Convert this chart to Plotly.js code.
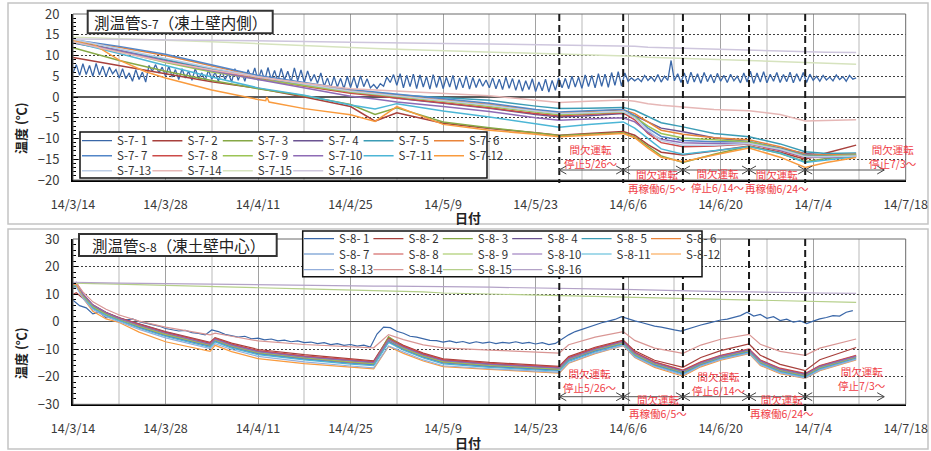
<!DOCTYPE html>
<html><head><meta charset="utf-8">
<script src="https://cdn.plot.ly/plotly-3.0.1.min.js"></script>
<style>html,body{margin:0;padding:0;background:#fff;}#chart{width:931px;height:451px;}</style>
</head><body><div id="chart"></div>
<script>
// ================= DATA =================
// --- S-7 (凍土壁内側) smooth series: common sample dates ---
const s7Dates = ['2014-03-14','2014-03-21','2014-03-28','2014-04-04','2014-04-11','2014-04-18','2014-04-25','2014-04-28 17:00','2014-05-02','2014-05-09','2014-05-16','2014-05-23','2014-05-26 14:00','2014-05-31','2014-06-05 06:00','2014-06-07','2014-06-09','2014-06-11','2014-06-14 07:00','2014-06-19','2014-06-24 07:00','2014-06-29','2014-07-02 19:00','2014-07-06','2014-07-10 12:00'];
const s7_2  = [9.5, 7.5, 5.6, 3.7, 2.1, 0.0, -2.3, -5.8, -3.8, -6.3, -7.6, -8.6, -9.2, -8.8, -8.3, -9.2, -11.5, -13.3, -14.0, -13.0, -11.8, -13.3, -15.0, -13.5, -11.6];
const s7_3  = [11.9, 8.8, 6.2, 4.0, 2.0, 0.3, -1.8, -4.2, -2.6, -6.0, -7.4, -8.6, -9.3, -9.0, -8.6, -9.6, -12.0, -14.2, -15.8, -13.8, -11.9, -13.6, -15.6, -14.8, -14.2];
const s7_4  = [13.0, 11.0, 8.8, 6.8, 4.8, 3.0, 1.2, 0.4, -0.3, -1.5, -2.7, -4.2, -4.8, -4.5, -4.0, -4.5, -6.0, -7.5, -8.4, -9.8, -10.8, -12.3, -13.6, -14.0, -13.8];
const s7_5  = [13.5, 11.3, 9.0, 6.8, 4.8, 3.0, 1.2, 0.8, 0.5, -0.1, -0.8, -2.2, -2.8, -2.7, -2.5, -3.2, -4.8, -6.2, -7.2, -8.8, -9.6, -11.3, -13.2, -13.6, -13.5];
const s7_6  = [13.6, 12.0, 10.0, 7.5, 5.0, 3.2, 1.5, 0.9, 0.4, -0.6, -1.8, -3.2, -3.8, -3.5, -3.1, -4.0, -6.0, -8.0, -9.0, -9.8, -10.3, -12.0, -13.8, -14.0, -13.8];
const s7_7  = [13.8, 12.2, 10.3, 7.8, 5.2, 3.5, 1.8, 1.2, 0.7, -0.3, -1.5, -3.0, -3.6, -3.3, -3.0, -4.5, -7.5, -9.5, -10.5, -10.8, -10.7, -12.4, -14.0, -14.2, -14.0];
const s7_8  = [13.5, 11.0, 8.6, 6.4, 4.4, 2.6, 0.9, 0.3, -0.3, -1.4, -2.6, -4.0, -4.5, -4.2, -3.8, -5.5, -8.8, -11.0, -12.0, -11.8, -11.3, -12.9, -14.6, -14.5, -14.2];
const s7_9  = [13.4, 11.0, 8.3, 6.0, 4.3, 2.8, 1.2, 0.6, 0.1, -1.0, -2.3, -3.7, -4.3, -4.0, -3.6, -4.8, -7.0, -8.8, -9.9, -10.3, -10.8, -12.5, -14.2, -14.3, -14.0];
const s7_10 = [13.2, 11.2, 8.6, 6.3, 4.2, 2.2, 0.2, -0.5, -1.2, -2.3, -3.5, -5.0, -5.6, -5.3, -5.0, -6.0, -8.5, -10.2, -11.0, -11.2, -11.2, -12.8, -14.4, -14.6, -14.3];
const s7_11 = [13.2, 10.5, 7.6, 4.8, 2.2, 0.4, -1.9, -2.9, -1.6, -3.4, -4.8, -6.5, -7.3, -6.6, -6.0, -7.5, -10.0, -12.5, -13.8, -13.0, -12.0, -13.5, -15.8, -15.2, -14.4];
const s7_13 = [13.9, 11.6, 9.2, 7.0, 4.9, 3.1, 1.4, 0.8, 0.3, -0.9, -2.0, -3.4, -4.0, -3.8, -3.5, -5.0, -8.0, -10.5, -11.6, -11.6, -11.2, -12.6, -14.4, -14.4, -14.2];
const s7_14 = [13.3, 10.8, 8.5, 6.5, 4.8, 3.3, 2.0, 1.7, 1.5, 0.9, 0.3, -0.8, -1.3, -1.0, -0.7, -1.0, -1.6, -2.0, -2.4, -3.0, -3.3, -4.2, -5.8, -5.7, -5.5];
const s7_15 = [14.4, 14.1, 13.7, 13.3, 12.8, 12.3, 11.9, 11.7, 11.5, 11.2, 10.9, 10.6, 10.4, 10.2, 9.9, 9.8, 9.6, 9.5, 9.3, 9.0, 8.7, 8.5, 8.3, 8.1, 7.9];
const s7_16 = [14.0, 13.9, 13.8, 13.7, 13.6, 13.4, 13.2, 13.1, 13.0, 12.9, 12.8, 12.6, 12.5, 12.4, 12.3, 12.2, 12.0, 11.9, 11.7, 11.5, 11.3, 11.0, 10.8, 10.8, 10.7];
// S-7-12 has its own dates (small spike on 4/12)
const s7_12Dates = ['2014-03-14','2014-03-17','2014-03-21','2014-03-25','2014-03-28','2014-04-04','2014-04-11','2014-04-12 04:00','2014-04-12 08:00','2014-04-12 16:00','2014-04-18','2014-04-25','2014-04-28 17:00','2014-05-02','2014-05-09','2014-05-16','2014-05-23','2014-05-26 14:00','2014-05-31','2014-06-05 06:00','2014-06-07','2014-06-09','2014-06-11','2014-06-14 07:00','2014-06-19','2014-06-24 07:00','2014-06-29','2014-07-02 19:00','2014-07-06','2014-07-10 12:00'];
const s7_12 = [13.6, 12.8, 8.9, 6.1, 4.6, 1.7, -0.6, -0.9, 0.0, -1.2, -2.8, -4.3, -5.9, -2.3, -6.6, -8.0, -9.0, -9.6, -9.2, -8.8, -9.8, -12.3, -14.5, -15.6, -14.0, -12.3, -14.5, -17.0, -15.8, -14.6];
// S-7-1: readings every 12 h from 2014-03-14 00:00 (night, noon pairs)
const s7_1Start = '2014-03-14';
const s7_1StepHours = 12;
const s7_1 = [
5.8,7.8, 5.2,8.0, 5.4,7.6, 5.0,8.1, 5.3,7.4, 4.9,7.2, 5.6,6.6, 4.6,6.8, 4.4,5.8, 3.8,6.6,
4.2,6.0, 3.6,7.6, 6.2,7.8, 5.8,7.2, 5.0,7.4, 4.8,6.6, 4.2,6.8, 4.6,6.2, 4.0,6.9, 4.4,5.8,
3.9,6.5, 4.3,6.0, 3.8,6.4, 4.2,5.7, 3.6,6.8, 4.0,6.2, 3.8,6.6, 4.4,7.0, 4.0,6.6, 3.9,7.1,
4.2,6.4, 3.7,6.9, 4.1,6.2, 3.6,7.0, 3.9,6.5, 3.5,6.3, 3.8,5.4, 3.3,5.8, 2.6,4.6, 2.2,4.9,
2.4,4.5, 2.0,5.0, 2.3,4.8, 2.1,5.1, 2.5,4.4, 2.2,3.0, 2.0,3.2, 2.6,4.8, 3.5,5.4, 2.8,5.6,
2.2,5.2, 2.5,5.5, 2.0,5.3, 2.4,4.9, 1.9,5.4, 2.3,5.0, 2.0,4.8, 2.4,5.2, 1.8,4.6, 2.2,5.1,
1.9,4.7, 2.3,4.4, 2.6,4.1, 2.2,4.6, 2.0,4.3, 1.8,4.8, 2.1,4.5, 1.6,4.2, 1.4,3.9, 1.8,4.4,
1.3,3.6, 1.5,4.3, 1.2,4.0, 1.6,4.6, 2.2,4.5, 2.0,5.0, 2.4,4.8, 2.1,5.3, 2.5,5.2, 2.2,5.6,
2.6,5.5, 2.3,5.9, 2.8,6.1, 2.6,5.8, 3.8,4.6, 3.9,4.5, 3.7,5.2, 4.0,4.8, 3.8,5.4, 3.6,5.0,
4.0,8.8, 3.9,5.6, 3.5,5.8, 3.2,6.0, 3.6,5.6, 3.3,5.9, 3.7,5.4, 3.4,5.7, 3.8,5.2, 3.5,5.5,
3.9,5.0, 3.4,5.8, 3.6,6.2, 3.3,5.8, 3.6,6.1, 3.4,5.5, 3.8,5.9, 3.5,5.4, 3.7,6.0, 3.4,5.6,
3.8,5.9, 3.5,5.5, 4.0,5.0, 3.8,5.2, 4.1,4.8, 3.9,5.3, 4.2,4.9, 3.8,5.2, 4.3,4.6];

// --- S-8 (凍土壁中心) smooth series: common sample dates ---
const s8Dates = ['2014-03-14','2014-03-14 12:00','2014-03-15 12:00','2014-03-17','2014-03-19','2014-03-21','2014-03-24','2014-03-28','2014-04-03 18:00','2014-04-04 12:00','2014-04-07','2014-04-11','2014-04-18','2014-04-25','2014-04-28 12:00','2014-04-30 18:00','2014-05-03','2014-05-06','2014-05-09','2014-05-16','2014-05-26 14:00','2014-05-28','2014-06-01','2014-06-05 06:00','2014-06-07','2014-06-10','2014-06-14 07:00','2014-06-17','2014-06-20','2014-06-24 07:00','2014-06-26','2014-06-29','2014-07-02 19:00','2014-07-05','2014-07-10 12:00'];
const s8_2  = [9.9, 10.5, 8.5, 5.5, 3.2, 1.4, -0.8, -3.6, -7.5, -5.8, -7.8, -10.1, -12.0, -13.6, -14.2, -5.8, -8.6, -11.4, -13.5, -14.8, -16.2, -12.7, -9.3, -6.7, -10.6, -14.0, -16.6, -13.0, -10.5, -8.1, -12.2, -15.5, -17.8, -13.8, -9.4];
const s8_3  = [12.3, 12.9, 9.0, 5.3, 2.8, 0.9, -1.4, -4.4, -8.3, -6.0, -8.5, -10.9, -12.9, -14.4, -15.0, -5.4, -9.2, -12.2, -14.3, -15.6, -17.0, -13.5, -10.1, -7.4, -11.6, -15.1, -18.1, -15.1, -12.7, -10.4, -14.4, -17.4, -19.3, -16.4, -12.7];
const s8_4  = [13.5, 14.0, 10.0, 6.1, 3.4, 1.4, -0.9, -3.8, -7.9, -6.2, -8.3, -10.7, -12.6, -14.1, -14.7, -6.4, -9.1, -11.9, -14.0, -15.3, -16.7, -13.2, -9.8, -7.1, -11.2, -14.8, -17.8, -14.8, -12.4, -10.1, -14.1, -17.1, -19.0, -16.1, -12.4];
const s8_5  = [13.0, 13.7, 9.7, 5.6, 2.8, 0.7, -1.8, -4.8, -8.7, -6.8, -9.0, -11.4, -13.3, -14.8, -15.4, -7.0, -9.8, -12.6, -14.7, -16.0, -17.4, -13.8, -10.4, -7.8, -12.0, -15.5, -18.5, -15.4, -13.0, -10.7, -14.8, -17.8, -19.7, -16.8, -13.0];
const s8_6  = [13.4, 14.0, 9.6, 5.3, 2.5, 0.5, -2.0, -5.0, -8.9, -7.0, -9.2, -11.6, -13.5, -15.0, -15.6, -7.2, -10.0, -12.8, -14.9, -16.2, -17.6, -14.0, -10.6, -8.0, -12.2, -15.7, -18.7, -15.6, -13.2, -10.9, -15.0, -18.0, -19.9, -17.0, -13.2];
const s8_7  = [12.6, 13.2, 9.0, 5.0, 2.4, 0.5, -2.1, -5.1, -9.0, -7.1, -9.3, -11.7, -13.6, -15.1, -15.7, -7.3, -10.1, -12.9, -15.0, -16.3, -17.7, -14.1, -10.7, -8.1, -12.3, -15.8, -18.8, -15.7, -13.3, -11.0, -15.1, -18.1, -20.0, -17.1, -13.3];
const s8_8  = [13.2, 13.8, 9.9, 6.0, 3.3, 1.3, -1.0, -3.9, -7.8, -6.0, -8.1, -10.5, -12.4, -13.9, -14.5, -6.1, -8.9, -11.7, -13.8, -15.1, -16.5, -13.0, -9.6, -7.0, -11.1, -14.6, -17.6, -14.6, -12.2, -9.9, -13.9, -16.9, -18.8, -15.9, -12.2];
const s8_9  = [12.8, 13.4, 9.3, 5.4, 2.7, 0.8, -1.6, -4.6, -8.5, -6.6, -8.8, -11.2, -13.1, -14.6, -15.2, -6.5, -9.6, -12.4, -14.5, -15.8, -17.2, -13.6, -10.2, -7.6, -11.8, -15.3, -18.3, -15.2, -12.8, -10.5, -14.6, -17.6, -19.5, -16.6, -12.8];
const s8_10 = [13.8, 14.3, 10.2, 6.0, 3.2, 1.1, -1.3, -4.2, -8.2, -6.4, -8.5, -10.9, -12.8, -14.3, -14.9, -6.6, -9.3, -12.1, -14.2, -15.5, -16.9, -13.4, -10.0, -7.3, -11.5, -15.0, -18.0, -15.0, -12.6, -10.3, -14.3, -17.3, -19.2, -16.3, -12.6];
const s8_11 = [12.9, 13.5, 9.0, 4.8, 2.1, 0.3, -2.4, -5.4, -9.3, -7.4, -9.6, -12.0, -13.9, -15.4, -16.0, -7.6, -10.4, -13.2, -15.3, -16.6, -18.0, -14.4, -11.0, -8.3, -12.5, -16.0, -19.0, -15.9, -13.5, -11.2, -15.3, -18.3, -20.2, -17.3, -13.5];
const s8_12 = [13.3, 13.6, 8.6, 3.8, 1.0, -0.3, -3.8, -7.3, -10.8, -8.6, -10.9, -13.4, -15.2, -16.6, -17.1, -9.0, -11.5, -14.3, -16.3, -17.3, -18.7, -15.1, -11.6, -8.7, -13.0, -16.6, -19.8, -16.4, -14.0, -11.6, -15.9, -18.9, -20.6, -17.8, -13.9];
const s8_13 = [12.0, 12.6, 8.4, 4.4, 1.8, 0.0, -2.8, -5.9, -9.8, -8.0, -10.1, -12.6, -14.6, -16.1, -16.8, -8.8, -11.1, -13.9, -16.0, -17.1, -18.4, -14.9, -11.4, -8.6, -12.8, -16.3, -19.4, -16.1, -13.7, -11.4, -15.6, -18.6, -20.5, -17.6, -13.7];
const s8_14 = [13.6, 14.0, 10.8, 7.2, 4.5, 2.4, 0.2, -2.0, -4.8, -4.2, -5.3, -7.0, -8.3, -9.2, -9.5, -4.7, -6.5, -8.4, -9.5, -10.3, -11.4, -8.4, -5.6, -3.6, -6.8, -9.6, -11.5, -8.5, -6.4, -4.6, -8.2, -10.8, -12.2, -9.6, -6.3];
const s8_15 = [14.0, 14.0, 13.9, 13.8, 13.7, 13.6, 13.4, 13.2, 12.8, 12.7, 12.6, 12.3, 11.9, 11.5, 11.3, 11.2, 11.0, 10.8, 10.4, 10.0, 9.4, 9.3, 9.0, 8.8, 8.7, 8.5, 8.3, 8.1, 7.9, 7.7, 7.6, 7.4, 7.2, 7.1, 7.0];
const s8_16 = [14.3, 14.3, 14.2, 14.2, 14.1, 14.0, 13.9, 13.8, 13.6, 13.6, 13.5, 13.4, 13.2, 13.0, 12.9, 12.9, 12.8, 12.8, 12.7, 12.5, 12.2, 12.1, 11.9, 11.7, 11.6, 11.4, 11.2, 11.1, 10.9, 10.8, 10.7, 10.6, 10.5, 10.4, 10.3];
// S-8-1: daily readings from 2014-03-14
const s8_1Start = '2014-03-14';
const s8_1StepHours = 24;
const s8_1 = [
7.8, 5.8, 5.0, 2.8, 3.4, 1.4, 1.8, 0.3, 0.6, 1.0,
0.0, -0.5, -1.2, -1.6, -2.5, -2.9, -3.4, -3.2, -4.0, -4.3,
-4.8, -3.0, -3.6, -4.6, -5.0, -5.6, -5.3, -6.2, -6.0, -6.6,
-6.3, -7.0, -6.7, -7.3, -7.0, -7.6, -7.4, -8.0, -7.6, -8.3,
-8.0, -8.6, -8.3, -8.9, -8.5, -9.2, -4.5, -2.0, -2.2, -3.5,
-4.2, -5.3, -5.6, -6.3, -6.8, -6.9, -7.4, -7.0, -7.6, -7.2,
-7.9, -7.3, -7.8, -7.4, -8.0, -7.5, -7.8, -7.3, -7.9, -7.5,
-8.1, -7.6, -8.3, -7.9, -6.3, -4.8, -3.6, -2.8, -1.8, -1.2,
-0.4, 0.2, 0.8, 1.8, 1.0, 0.3, -0.3, -1.0, -1.6, -2.0,
-2.6, -3.0, -3.4, -2.6, -2.0, -1.2, -0.6, 0.0, 0.6, 0.9,
1.6, 2.2, 3.4, 2.0, 2.6, 1.2, 1.8, 0.4, 0.9, -0.2,
0.3, -0.7, 0.2, 1.0, 1.5, 2.2, 2.0, 3.4, 4.0];

// --- names, ticks, events ---
const s7Names = ['S-7- 1','S-7- 2','S-7- 3','S-7- 4','S-7- 5','S-7- 6','S-7- 7','S-7- 8','S-7- 9','S-7-10','S-7-11','S-7-12','S-7-13','S-7-14','S-7-15','S-7-16'];
const s8Names = ['S-8- 1','S-8- 2','S-8- 3','S-8- 4','S-8- 5','S-8- 6','S-8- 7','S-8- 8','S-8- 9','S-8-10','S-8-11','S-8-12','S-8-13','S-8-14','S-8-15','S-8-16'];
const chartTitles = ['測温管<span style="font-size:12px">S-7</span>（凍土壁内側）','測温管<span style="font-size:12px">S-8</span>（凍土壁中心）'];
const yTitle = '温度 (℃)';
const xTitle = '日付';
const xRange = ['2014-03-14','2014-07-18'];
const eventDates = ['2014-05-26 14:00','2014-06-05 06:00','2014-06-14 07:00','2014-06-24 07:00','2014-07-02 19:00'];
const arrowEndDate = '2014-07-14 18:00';
const eventLabels = ['間欠運転<br>停止5/26～','間欠運転<br>再稼働6/5～','間欠運転<br>停止6/14～','間欠運転<br>再稼働6/24～','間欠運転<br>停止7/3～'];

// ================= STYLE =================
const FONT = '"Noto Sans CJK JP", "Noto Sans", sans-serif';
const W = 931, H = 451;
const px = v => v / W;
const py = v => 1 - v / H;
const colorsTop = ['#3A67A8','#A8403C','#86A845','#6B5392','#3B9CB5','#E9843A','#5286C8','#CC4A48','#9CC455','#8E6BB5','#4CB6D6','#F99B3E','#BCCDE6','#E6B7B6','#D6E3BE','#CEC6DD'];
const colorsBot = ['#3A67A8','#A8403C','#86A845','#6B5392','#3B9CB5','#E9843A','#5286C8','#CC4A48','#9CC455','#8E6BB5','#4CB6D6','#F99B3E','#93AEDB','#D99694','#B5CF8A','#B3A2C7'];
const RED = '#F03C46';

function stepDates(start, stepH, n){
  const t0 = Date.parse(start + 'T00:00:00Z');
  const out = [];
  for (let i = 0; i < n; i++) out.push(new Date(t0 + i*stepH*3600e3).toISOString().slice(0,19).replace('T',' '));
  return out;
}

function lineTrace(name, x, y, color, w, xa, ya, leg){
  return {type:'scatter', mode:'lines', name:name, x:x, y:y, xaxis:xa, yaxis:ya, legend:leg,
          line:{color:color, width:w}, hoverinfo:'skip'};
}

const traces = [];
const seriesTop = [
  [stepDates(s7_1Start, s7_1StepHours, s7_1.length), s7_1],
  [s7Dates, s7_2],[s7Dates, s7_3],[s7Dates, s7_4],[s7Dates, s7_5],[s7Dates, s7_6],
  [s7Dates, s7_7],[s7Dates, s7_8],[s7Dates, s7_9],[s7Dates, s7_10],[s7Dates, s7_11],[s7_12Dates, s7_12],
  [s7Dates, s7_13],[s7Dates, s7_14],[s7Dates, s7_15],[s7Dates, s7_16]];
seriesTop.forEach((d,i)=>{
  const leg = i < 6 ? 'legend' : (i < 12 ? 'legend2' : 'legend3');
  traces.push(lineTrace(s7Names[i], d[0], d[1], colorsTop[i], i===0?1.3:1.5, 'x', 'y', leg));
});
const seriesBot = [
  [stepDates(s8_1Start, s8_1StepHours, s8_1.length), s8_1],
  [s8Dates, s8_2],[s8Dates, s8_3],[s8Dates, s8_4],[s8Dates, s8_5],[s8Dates, s8_6],
  [s8Dates, s8_7],[s8Dates, s8_8],[s8Dates, s8_9],[s8Dates, s8_10],[s8Dates, s8_11],[s8Dates, s8_12],
  [s8Dates, s8_13],[s8Dates, s8_14],[s8Dates, s8_15],[s8Dates, s8_16]];
seriesBot.forEach((d,i)=>{
  const leg = i < 6 ? 'legend4' : (i < 12 ? 'legend5' : 'legend6');
  traces.push(lineTrace(s8Names[i], d[0], d[1], colorsBot[i], 1.2, 'x2', 'y2', leg));
});
// blank spacer legend entries (no visible mark) so the last column's text is not clipped
['legend','legend2','legend3'].forEach(l=>traces.push(lineTrace(' ', [xRange[0]], [null], 'rgba(0,0,0,0)', 0.1, 'x', 'y', l)));
['legend4','legend5','legend6'].forEach(l=>traces.push(lineTrace(' ', [xRange[0]], [null], 'rgba(0,0,0,0)', 0.1, 'x2', 'y2', l)));

// axes
const DAY = 86400000;
function xAxis(anchor){
  return {type:'date', range:xRange, tick0:'2014-03-14', dtick:14*DAY, tickformat:'%y/%-m/%-d',
    showgrid:true, gridcolor:'#a2a2a2', gridwidth:1,
    minor:{tick0:'2014-03-14', dtick:7*DAY, showgrid:true, gridcolor:'#dcdcdc', gridwidth:2, ticks:''},
    showline:true, linecolor:'#000', linewidth:2, ticks:'', zeroline:false,
    tickfont:{family:FONT, size:12.5, color:'#3a3a3a'}, ticklabelstandoff:12,
    domain:[px(73), px(905.7)], anchor:anchor, fixedrange:true};
}
function yAxis(anchor, dom, rng, dt, mdt){
  return {range:rng, dtick:dt, tick0:0, domain:dom, anchor:anchor,
    showgrid:true, gridcolor:'#404040', gridwidth:1, griddash:'2px,2px',
    zeroline:true, zerolinecolor:'#5a5a5a', zerolinewidth:1.5,
    showline:true, linecolor:'#000', linewidth:2,
    ticks:'inside', ticklen:5, tickcolor:'#000', tickwidth:1,
    minor:{dtick:mdt, tick0:0, ticks:'inside', ticklen:3, tickcolor:'#000', showgrid:false},
    tickfont:{family:FONT, size:13, color:'#3a3a3a'}, ticklabelstandoff:9, fixedrange:true};
}

// Plotly adds ~42 px (symbol + gaps) to entrywidth; subtract it to get the column pitch
const LEG_OVERHEAD = 42.3;
function legendRow(xpx, ypx, pitch){
  return {orientation:'h', x:px(xpx), xanchor:'left', y:py(ypx), yanchor:'middle',
    entrywidth:pitch - LEG_OVERHEAD, entrywidthmode:'pixels', bgcolor:'rgba(0,0,0,0)', borderwidth:0,
    font:{family:FONT, size:11.5, color:'#333'}, itemwidth:30, tracegroupgap:0,
    itemclick:false, itemdoubleclick:false};
}

// shapes
const shapes = [];
function rectPx(x0,y0,x1,y1,lc,lw,fill,layer){
  shapes.push({type:'rect', xref:'paper', yref:'paper', x0:px(x0), x1:px(x1), y0:py(y1), y1:py(y0),
    line:{color:lc, width:lw}, fillcolor:fill||'rgba(0,0,0,0)', layer:layer||'above'});
}
rectPx(8,3,928,224,'#c4c4c4',1.5,null,'below');
rectPx(8,229,928,449,'#c4c4c4',1.5,null,'below');
rectPx(73,14,905.7,180,'#6a6a6a',1,null,'above');
rectPx(73,239,905.7,404.3,'#6a6a6a',1,null,'above');

function eventShapes(xref, yTopPx, yBotPx, arrowPx, arrowEndX){
  eventDates.forEach(d=>{
    shapes.push({type:'line', xref:xref, yref:'paper', x0:d, x1:d, y0:py(yTopPx), y1:py(yBotPx),
      line:{color:'#1a1a1a', width:2, dash:'7px,4px'}, layer:'above'});
  });
  shapes.push({type:'line', xref:xref, yref:'paper', x0:eventDates[0], x1:arrowEndX, y0:py(arrowPx), y1:py(arrowPx),
    line:{color:'#555', width:1}, layer:'above'});
  const chev = (d, path) => shapes.push({type:'path', xref:xref, yref:'paper', xsizemode:'pixel', ysizemode:'pixel',
    xanchor:d, yanchor:py(arrowPx), path:path, line:{color:'#444', width:1}, layer:'above'});
  eventDates.forEach((d,i)=>{
    chev(d, 'M7,4L0,0L7,-4');
    if (i > 0) chev(d, 'M-7,4L0,0L-7,-4');
  });
  chev(arrowEndX, 'M-7,4L0,0L-7,-4');
}
eventShapes('x', 14, 183, 170, arrowEndDate);
eventShapes('x2', 239, 411, 396.7, arrowEndDate);

rectPx(80,132,487,178,'#111',1.5,'#fff','above');
rectPx(302.7,231,702,276.7,'#111',1.5,'#fff','above');
rectPx(87.7,10.7,272.7,33.3,'#333',2,'#fff','above');
rectPx(79,234,276.7,256,'#333',2,'#fff','above');

// annotations
const ann = [];
function textPx(x, y, text, size, color, opts){
  ann.push(Object.assign({xref:'paper', yref:'paper', x:px(x), y:py(y), xanchor:'center', yanchor:'middle',
    text:text, showarrow:false, font:{family:FONT, size:size, color:color}}, opts||{}));
}
textPx(180, 22, chartTitles[0], 15.5, '#222');
textPx(178, 245, chartTitles[1], 15.5, '#222');
textPx(20, 128, '<b>'+yTitle+'</b>', 13, '#222', {textangle:-90});
textPx(20, 353, '<b>'+yTitle+'</b>', 13, '#222', {textangle:-90});
textPx(468, 217.5, '<b>'+xTitle+'</b>', 13, '#222');
textPx(468, 442, '<b>'+xTitle+'</b>', 13, '#222');
const topLab = [[591,156],[657,181],[718,180.5],[777,181],[893,156]];
const botLab = [[590,380],[658,406],[719,383],[782,406],[862,378]];
eventLabels.forEach((t,i)=>{
  textPx(topLab[i][0], topLab[i][1], t, 10.5, RED, {align:'center'});
  textPx(botLab[i][0], botLab[i][1], t, 10.5, RED, {align:'center'});
});

const layout = {
  width:W, height:H, autosize:false, margin:{l:0,r:0,t:0,b:0,autoexpand:false},
  paper_bgcolor:'#fff', plot_bgcolor:'#fff', showlegend:true, hovermode:false,
  font:{family:FONT, color:'#333'},
  xaxis:xAxis('y'), xaxis2:xAxis('y2'),
  yaxis:yAxis('x', [py(180), py(14)], [-20,20], 5, 1),
  yaxis2:yAxis('x2', [py(404.3), py(239)], [-30,30], 10, 2),
  legend:legendRow(77,140.7,67.7), legend2:legendRow(77,155.7,67.7), legend3:legendRow(77,170.7,67.7),
  legend4:legendRow(299,238.7,66.7), legend5:legendRow(299,254,66.7), legend6:legendRow(299,269.7,66.7),
  shapes:shapes, annotations:ann
};
Plotly.newPlot('chart', traces, layout, {staticPlot:true, displayModeBar:false});
</script>
</body></html>
